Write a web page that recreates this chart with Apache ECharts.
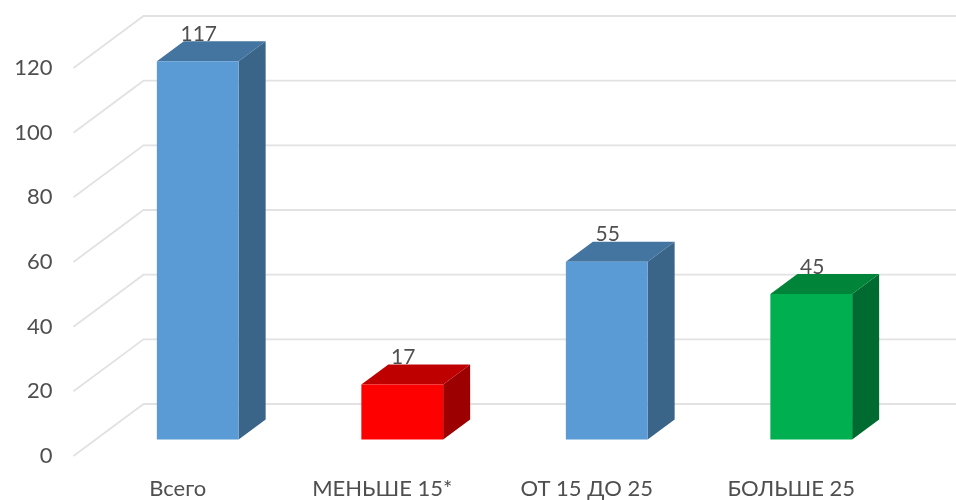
<!DOCTYPE html>
<html>
<head>
<meta charset="utf-8">
<style>
html,body{margin:0;padding:0;background:#fff;}
#chart{width:956px;height:500px;filter:blur(0.7px);}
</style>
<script src="https://cdn.jsdelivr.net/npm/echarts@6/dist/echarts.min.js"></script>
</head>
<body>
<div id="chart"></div>
<script>
const categories = ['Всего', 'МЕНЬШЕ 15*', 'ОТ 15 ДО 25', 'БОЛЬШЕ 25'];
const values = [117, 17, 55, 45];
const yTicks = [0, 20, 40, 60, 80, 100, 120];
const frontColors = ['#5B9BD5', '#FF0000', '#5B9BD5', '#00B050'];
const topColors = ['#4474A0', '#BF0000', '#4474A0', '#008439'];
const sideColors = ['#3A6488', '#9C0000', '#3A6488', '#006B30'];

const FONT = 'Lato, "Noto Sans", sans-serif';
const TEXT = '#4F4F4F';
const chart = echarts.init(document.getElementById('chart'));

function renderWall(params, api) {
  const c = params.coordSys;
  const y = api.coord([0, api.value(1)])[1];
  return {
    type: 'polyline',
    shape: { points: [[c.x - 2, y], [c.x + 68, y - 52], [c.x + c.width + 68, y - 52]] },
    style: { fill: null, stroke: '#E2E2E2', lineWidth: 1.8 }
  };
}

function renderBar(params, api) {
  const i = params.dataIndex;
  const base = api.coord([api.value(0), 0]);
  const top = api.coord([api.value(0), api.value(1)]);
  const w = api.size([1, 0])[0] * 0.4;
  const x0 = base[0] + 20 - w / 2, x1 = x0 + w;
  const yb = base[1] - 16.5, yt = top[1] - 16.5;
  const dx = 27, dy = 20;
  return {
    type: 'group',
    children: [
      { type: 'polygon', shape: { points: [[x1, yb], [x1 + dx, yb - dy], [x1 + dx, yt - dy], [x1, yt]] },
        style: { fill: sideColors[i] } },
      { type: 'polygon', shape: { points: [[x0, yt], [x0 + dx, yt - dy], [x1 + dx, yt - dy], [x1, yt]] },
        style: { fill: topColors[i] } },
      { type: 'rect', shape: { x: x0, y: yt, width: w, height: yb - yt },
        style: { fill: frontColors[i] } },
      { type: 'text', style: { text: String(api.value(1)), x: (x0 + x1) / 2 + 1, y: yt - 27,
        align: 'center', verticalAlign: 'middle', fill: TEXT, font: '21px ' + FONT } }
    ]
  };
}

chart.setOption({
  animation: false,
  grid: { left: 75.5, top: 68, width: 818, height: 388.5, containLabel: false },
  xAxis: {
    type: 'category', data: categories,
    axisLine: { show: false }, axisTick: { show: false }, splitLine: { show: false },
    axisLabel: { color: TEXT, fontFamily: FONT, fontSize: 22, margin: 22, interval: 0 }
  },
  yAxis: {
    type: 'value', min: 0, max: 120, interval: 20,
    axisLine: { show: false }, axisTick: { show: false }, splitLine: { show: false },
    axisLabel: { color: TEXT, fontFamily: FONT, fontSize: 22, margin: 23 }
  },
  series: [
    { type: 'custom', clip: false, silent: true, z: 1, renderItem: renderWall,
      encode: { x: 0, y: 1 }, data: yTicks.map(t => [0, t]) },
    { type: 'custom', clip: false, silent: true, z: 2, renderItem: renderBar,
      encode: { x: 0, y: 1 }, data: values.map((v, i) => [i, v]) }
  ]
});
</script>
</body>
</html>
